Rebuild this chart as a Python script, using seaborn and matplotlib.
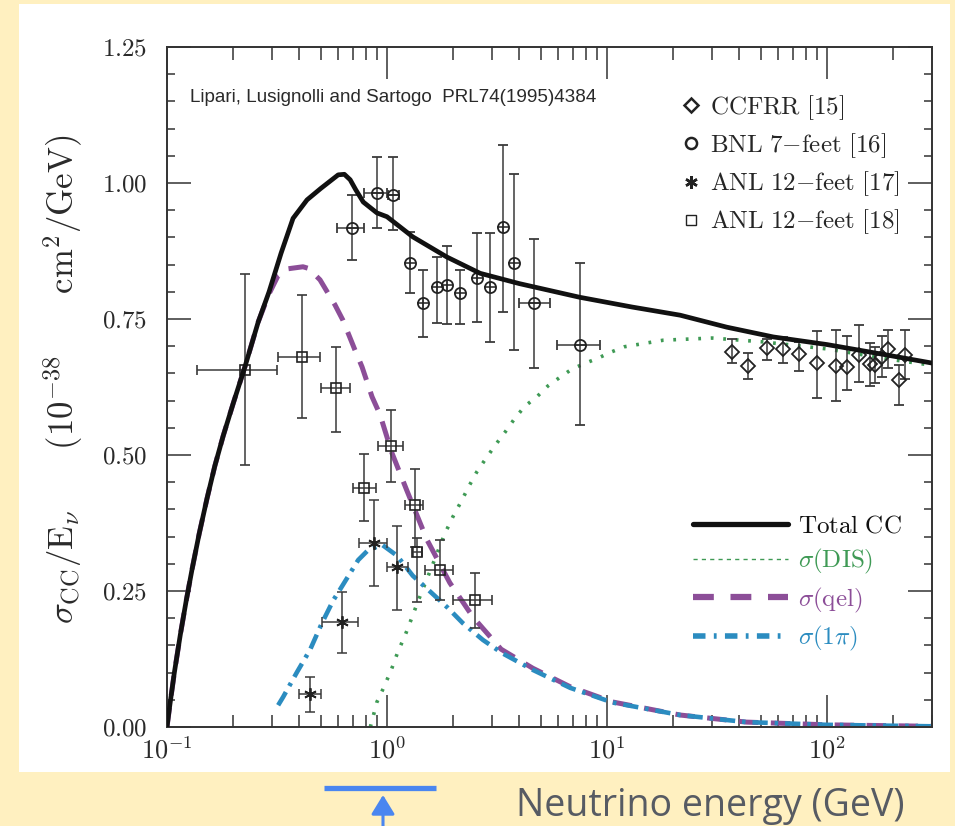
import numpy as np
import pandas as pd
import matplotlib
matplotlib.use("Agg")
import matplotlib.pyplot as plt
import seaborn as sns
from matplotlib.lines import Line2D
from matplotlib.patches import Rectangle
from matplotlib.ticker import FuncFormatter, NullFormatter, LogLocator, MultipleLocator

# ---------------- data ----------------
# theory curves: E [GeV], sigma/E [1e-38 cm^2/GeV]
total_E = [0.1, 0.103, 0.108, 0.115, 0.122, 0.13, 0.14, 0.152, 0.165, 0.18, 0.2, 0.226, 0.26,
           0.291, 0.33, 0.374, 0.433, 0.5, 0.6, 0.64, 0.68, 0.72, 0.78, 0.9, 1.0, 1.31, 1.87,
           2.65, 4.0, 7.5, 13, 21.5, 35, 57, 100, 180, 300]
total_s = [0.0, 0.04, 0.10, 0.17, 0.23, 0.29, 0.355, 0.42, 0.48, 0.535, 0.595, 0.662, 0.745,
           0.80, 0.871, 0.935, 0.969, 0.99, 1.015, 1.016, 1.006, 0.988, 0.965, 0.945, 0.938,
           0.901, 0.864, 0.834, 0.815, 0.79, 0.772, 0.757, 0.735, 0.717, 0.703, 0.685, 0.669]

dis_E = [0.84, 0.90, 0.97, 1.05, 1.12, 1.21, 1.30, 1.38, 1.60, 1.82, 1.99, 2.17, 2.36, 2.56,
         2.82, 3.13, 3.44, 3.82, 4.24, 4.80, 5.39, 6.12, 6.93, 8.0, 9.1, 10.4, 12.0, 18, 30,
         51, 100, 200, 300]
dis_s = [0.0, 0.046, 0.074, 0.107, 0.138, 0.169, 0.202, 0.23, 0.295, 0.353, 0.386, 0.414,
         0.443, 0.469, 0.494, 0.52, 0.542, 0.568, 0.59, 0.607, 0.627, 0.643, 0.658, 0.669,
         0.678, 0.689, 0.699, 0.711, 0.715, 0.708, 0.695, 0.675, 0.665]

qel_E = [0.1, 0.103, 0.108, 0.115, 0.122, 0.13, 0.14, 0.152, 0.165, 0.18, 0.2, 0.226, 0.26,
         0.29, 0.32, 0.35, 0.415, 0.44, 0.496, 0.58, 0.63, 0.715, 0.77, 0.855, 0.93, 1.05,
         1.23, 1.52, 1.93, 2.46, 3.3, 4.6, 6.8, 10.6, 21.5, 43, 100, 300]
qel_s = [0.0, 0.04, 0.10, 0.17, 0.23, 0.29, 0.355, 0.42, 0.48, 0.535, 0.595, 0.662, 0.745,
         0.795, 0.83, 0.842, 0.846, 0.843, 0.822, 0.776, 0.748, 0.693, 0.662, 0.607, 0.574,
         0.505, 0.435, 0.344, 0.265, 0.202, 0.143, 0.108, 0.074, 0.046, 0.022, 0.009, 0.004,
         0.0013]

pi_E = [0.32, 0.337, 0.39, 0.447, 0.506, 0.57, 0.61, 0.74, 0.82, 0.95, 1.11, 1.31, 1.57,
        1.89, 2.21, 2.73, 3.33, 4.6, 6.8, 10.6, 21.5, 43, 100, 300]
pi_s = [0.04, 0.055, 0.101, 0.142, 0.191, 0.233, 0.252, 0.307, 0.325, 0.335, 0.315, 0.278,
        0.249, 0.219, 0.191, 0.16, 0.136, 0.105, 0.072, 0.045, 0.022, 0.009, 0.004, 0.0013]

# ANL 12-feet [18] (squares)
anl18_E = [0.226, 0.411, 0.586, 0.79, 1.04, 1.34, 1.37, 1.74, 2.51]
anl18_s = [0.656, 0.680, 0.623, 0.439, 0.517, 0.408, 0.322, 0.289, 0.233]
anl18_lo = [0.482, 0.568, 0.542, 0.379, 0.450, 0.331, 0.230, 0.233, 0.182]
anl18_hi = [0.833, 0.794, 0.699, 0.502, 0.583, 0.474, 0.347, 0.344, 0.283]
anl18_xlo = [0.137, 0.32, 0.50, 0.70, 0.91, 1.21, 1.31, 1.49, 2.0]
anl18_xhi = [0.316, 0.496, 0.68, 0.89, 1.18, 1.46, 1.44, 2.0, 3.0]

# ANL 12-feet [17] (asterisks)
anl17_E = [0.447, 0.624, 0.873, 1.11]
anl17_s = [0.061, 0.193, 0.338, 0.294]
anl17_lo = [0.028, 0.136, 0.259, 0.215]
anl17_hi = [0.092, 0.248, 0.417, 0.369]
anl17_xlo = [0.40, 0.506, 0.746, 1.0]
anl17_xhi = [0.50, 0.738, 1.0, 1.25]

# BNL 7-feet [16] (circles)
bnl_E = [0.693, 0.90, 1.06, 1.27, 1.46, 1.69, 1.87, 2.15, 2.56, 2.94, 3.37, 3.78, 4.66, 7.54]
bnl_s = [0.917, 0.982, 0.978, 0.853, 0.779, 0.809, 0.812, 0.798, 0.825, 0.809, 0.919, 0.853,
         0.779, 0.702]
bnl_lo = [0.858, 0.917, 0.913, 0.798, 0.717, 0.743, 0.741, 0.741, 0.744, 0.708, 0.763, 0.693,
          0.660, 0.555]
bnl_hi = [0.978, 1.048, 1.048, 0.910, 0.840, 0.864, 0.884, 0.840, 0.908, 0.908, 1.070, 1.017,
          0.897, 0.853]
bnl_xlo = [0.59, 0.79, 1.01, 1.27, 1.46, 1.69, 1.87, 2.15, 2.56, 2.94, 3.37, 3.78, 3.98, 5.93]
bnl_xhi = [0.79, 1.00, 1.13, 1.27, 1.46, 1.69, 1.87, 2.15, 2.56, 2.94, 3.37, 3.78, 5.5, 9.3]

# CCFRR [15] (diamonds)
ccf_E = [37, 43.8, 53.4, 63, 74.6, 90, 110, 123, 140, 157, 166, 178, 189, 212, 226]
ccf_s = [0.689, 0.664, 0.697, 0.695, 0.686, 0.669, 0.664, 0.662, 0.684, 0.667, 0.665, 0.680,
         0.695, 0.638, 0.684]
ccf_lo = [0.669, 0.640, 0.675, 0.669, 0.654, 0.605, 0.599, 0.619, 0.634, 0.627, 0.632, 0.643,
          0.660, 0.592, 0.640]
ccf_hi = [0.713, 0.687, 0.713, 0.717, 0.708, 0.728, 0.730, 0.719, 0.739, 0.706, 0.699, 0.719,
          0.730, 0.665, 0.730]

y_ticks = [0.0, 0.25, 0.5, 0.75, 1.0, 1.25]
x_ticks = [0.1, 1, 10, 100]

# ---------------- style ----------------
sns.set_style("ticks")
plt.rcParams["font.family"] = ["Liberation Serif", "DejaVu Serif"]
plt.rcParams["mathtext.fontset"] = "cm"
plt.rcParams["lines.scale_dashes"] = False

BG = "#fff0c0"
GREEN = "#3f9a55"
PURPLE = "#8c4e98"
BLUE = "#2b8cc0"
INK = "#2a2a2a"

W, H = 955, 826
fig = plt.figure(figsize=(W / 100, H / 100), dpi=100, facecolor=BG)
fig.add_artist(Rectangle((19 / W, (H - 772) / H), 931 / W, 768 / H,
                         transform=fig.transFigure, facecolor="white",
                         edgecolor="none", zorder=0))

ax = fig.add_axes([167 / W, (H - 727) / H, (932 - 167) / W, (727 - 47) / H])
ax.set_facecolor("white")
ax.set_xscale("log")
ax.set_xlim(0.1, 300)
ax.set_ylim(0, 1.25)

# ---------------- curves ----------------
def curve(E, s, **kw):
    df = pd.DataFrame({"E": E, "s": s})
    sns.lineplot(data=df, x="E", y="s", ax=ax, errorbar=None, **kw)
    return ax.lines[-1]

l_dis = curve(dis_E, dis_s, color=GREEN, lw=2.6, zorder=2)
l_dis.set_dashes([2.0, 7.0])
l_qel = curve(qel_E, qel_s, color=PURPLE, lw=3.6, zorder=2)
l_qel.set_dashes([14, 9])
l_pi = curve(pi_E, pi_s, color=BLUE, lw=3.3, zorder=2)
l_pi.set_dashes([11, 5, 2.5, 5])

# ---------------- data points ----------------
eb = dict(ecolor="#3a3a3a", elinewidth=1.1, capsize=3.6, capthick=1.1, mfc="none",
          mec="#222222", linestyle="none", zorder=3)

def pts(E, s, lo, hi, xlo=None, xhi=None, **kw):
    E = np.asarray(E); s = np.asarray(s)
    yerr = [s - np.asarray(lo), np.asarray(hi) - s]
    xerr = None
    if xlo is not None:
        xerr = [E - np.asarray(xlo), np.asarray(xhi) - E]
    ax.errorbar(E, s, yerr=yerr, xerr=xerr, **eb, **kw)

pts(anl18_E, anl18_s, anl18_lo, anl18_hi, anl18_xlo, anl18_xhi, fmt="s", ms=7, mew=1.2)
pts(anl17_E, anl17_s, anl17_lo, anl17_hi, anl17_xlo, anl17_xhi, fmt="none")
ax.plot(anl17_E, anl17_s, linestyle="none", marker=(6, 2, 0), ms=9, mew=1.3,
        color="#222222", zorder=3)
pts(bnl_E, bnl_s, bnl_lo, bnl_hi, bnl_xlo, bnl_xhi, fmt="o", ms=8, mew=1.3)
ax.plot(bnl_E, bnl_s, linestyle="none", marker="_", ms=8, mew=1.1, color="#222222", zorder=3)
pts(ccf_E, ccf_s, ccf_lo, ccf_hi, fmt="D", ms=7, mew=1.3)

l_tot = curve(total_E, total_s, color="#111111", lw=3.4, zorder=4)

# ---------------- axes cosmetics ----------------
ax.set_xticks(x_ticks)
ax.xaxis.set_minor_locator(LogLocator(base=10, subs=np.arange(2, 10)))
ax.xaxis.set_minor_formatter(NullFormatter())
ax.xaxis.set_major_formatter(FuncFormatter(lambda v, p: r"$10^{%d}$" % int(round(np.log10(v)))))
ax.set_yticks(y_ticks)
ax.yaxis.set_minor_locator(MultipleLocator(0.05))
ax.yaxis.set_major_formatter(FuncFormatter(lambda v, p: r"$%.2f$" % v))

ax.tick_params(axis="both", which="both", direction="in", top=True, right=True,
               color="#333333", width=1.1, labelcolor=INK)
ax.tick_params(axis="x", which="major", length=23, labelsize=19, pad=7)
ax.tick_params(axis="x", which="minor", length=9)
ax.tick_params(axis="y", which="major", length=17, labelsize=18, pad=14)
ax.tick_params(axis="y", which="minor", length=5.5)
for sp in ax.spines.values():
    sp.set_color("#333333")
    sp.set_linewidth(1.4)

ax.set_xlabel("")
ax.set_ylabel(r"$\sigma_{\rm CC}/{\rm E}_\nu\qquad (10^{-38}\qquad {\rm cm}^2/{\rm GeV})$",
              fontsize=25, color=INK)
ax.yaxis.label.set_va("center")
ax.yaxis.set_label_coords(-0.136, 0.512)

ax.text(0.030, 0.926, "Lipari, Lusignolli and Sartogo  PRL74(1995)4384",
        transform=ax.transAxes, family=["Liberation Sans", "DejaVu Sans"], fontsize=13.6,
        color=INK, va="center", ha="left")

# ---------------- legends ----------------
mk = dict(linestyle="none", color="#222222", mfc="none", mew=1.8)
h1 = [Line2D([], [], marker="D", ms=7, **mk),
      Line2D([], [], marker="o", ms=8, **mk),
      Line2D([], [], marker=(6, 2, 0), ms=9, linestyle="none", color="#222222", mew=1.8),
      Line2D([], [], marker="s", ms=7, linestyle="none", color="#222222", mfc="none", mew=1.0)]
lab1 = [r"$\rm CCFRR\ [15]$", r"$\rm BNL\ 7{-}feet\ [16]$",
        r"$\rm ANL\ 12{-}feet\ [17]$", r"$\rm ANL\ 12{-}feet\ [18]$"]
leg1 = ax.legend(h1, lab1, loc="upper left", bbox_to_anchor=(681 / W, (H - 93) / H),
                 bbox_transform=fig.transFigure, frameon=False, fontsize=18,
                 handlelength=0.8, handletextpad=0.35, labelspacing=0.38,
                 borderpad=0, borderaxespad=0)
ax.add_artist(leg1)

h2 = [Line2D([], [], color="#111111", lw=3.8),
      Line2D([], [], color=GREEN, lw=1.0, dashes=[3, 3]),
      Line2D([], [], color=PURPLE, lw=4.5, dashes=[15, 12]),
      Line2D([], [], color=BLUE, lw=4.0, dashes=[9, 6, 2, 6])]
lab2 = [r"$\rm Total\ CC$", r"$\sigma(\rm DIS)$", r"$\sigma(\rm qel)$", r"$\sigma(1\pi)$"]
leg2 = ax.legend(h2, lab2, loc="upper left", bbox_to_anchor=(693 / W, (H - 515) / H),
                 bbox_transform=fig.transFigure, frameon=False, fontsize=18,
                 handlelength=3.8, handletextpad=0.4, labelspacing=0.38,
                 borderpad=0, borderaxespad=0,
                 labelcolor=["#111111", GREEN, PURPLE, BLUE])

# ---------------- annotations below the chart ----------------
fig.text(905 / W, (H - 806) / H, "Neutrino energy (GeV)", family=["Open Sans", "DejaVu Sans"],
         fontsize=27, color="#575b63", ha="right", va="center")
fig.add_artist(Line2D([324 / W, 436 / W], [(H - 788) / H, (H - 788) / H],
                      transform=fig.transFigure, color="#4a86f0", lw=3.8,
                      solid_capstyle="butt"))
ax.annotate("", xy=(383, H - 795), xytext=(383, -2), xycoords="figure pixels",
            textcoords="figure pixels", annotation_clip=False,
            arrowprops=dict(arrowstyle="-|>,head_length=0.9,head_width=0.55",
                            color="#4a86f0", lw=2.2, mutation_scale=13, shrinkA=0, shrinkB=0))

fig.savefig("out.png", dpi=100, facecolor=BG)
